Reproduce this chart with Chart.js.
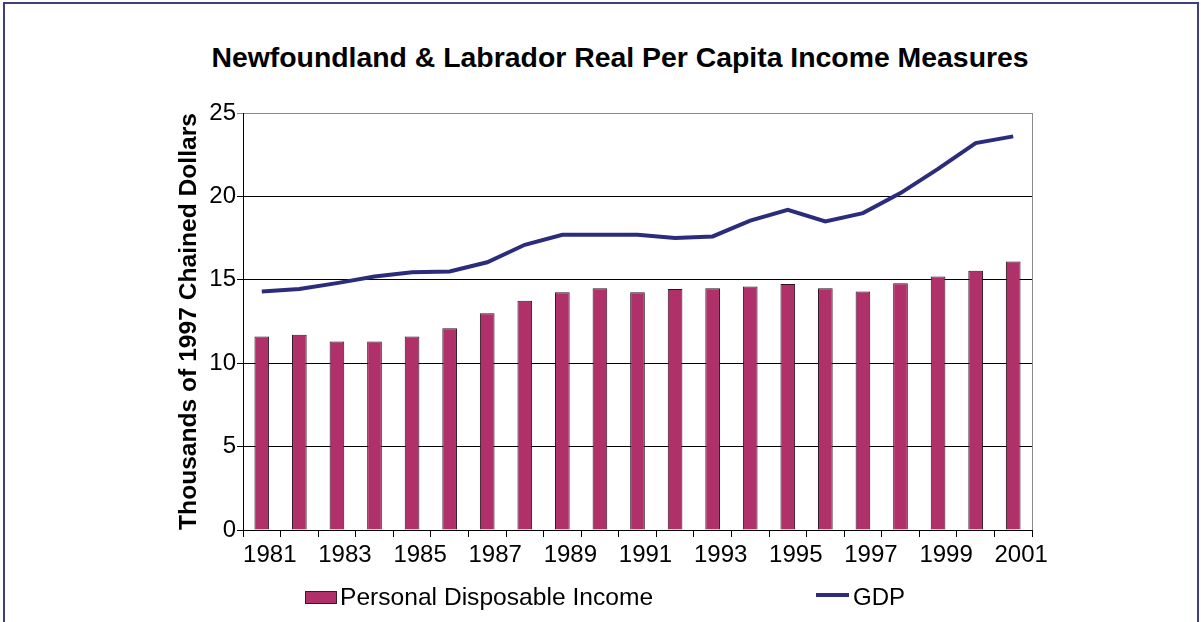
<!DOCTYPE html>
<html>
<head>
<meta charset="utf-8">
<script src="https://cdn.jsdelivr.net/npm/chart.js@4.4.1/dist/chart.umd.min.js"></script>
<style>
  html, body { margin: 0; padding: 0; background: #fff; }
  body { width: 1201px; height: 622px; position: relative; overflow: hidden; font-family: Arial, "Liberation Sans", sans-serif; }
  .frame { position: absolute; left: 3px; top: 2px; width: 1192px; height: 660px; border: 2px solid #3f3f7c; border-bottom: none; }
  .title { position: absolute; left: 120px; width: 1000px; top: 41px; line-height: 32px; text-align: center; font-size: 28.4px; font-weight: bold; color: #000; }
  #chart { position: absolute; left: 0; top: 0; }
  .leg-text { position: absolute; top: 585px; font-size: 24px; line-height: 24px; color: #000; white-space: nowrap; }
  .sw-bar { position: absolute; left: 305px; top: 591px; width: 30px; height: 11px; background: #b0306a; border: 1px solid #3a1a2a; }
  .sw-line { position: absolute; left: 816px; top: 593px; width: 33px; height: 4px; background: #2b2d7c; }
</style>
</head>
<body>
<div class="frame"></div>
<div class="title">Newfoundland &amp; Labrador Real Per Capita Income Measures</div>
<canvas id="chart" width="1201" height="622"></canvas>
<div class="sw-bar"></div>
<div class="leg-text" style="left:340px; font-size:24.6px;">Personal Disposable Income</div>
<div class="sw-line"></div>
<div class="leg-text" style="left:853px;">GDP</div>

<script>
// values, thousands of 1997 chained dollars
const YEARS = ['1981','1982','1983','1984','1985','1986','1987','1988','1989','1990','1991',
               '1992','1993','1994','1995','1996','1997','1998','1999','2000','2001'];
const INCOME = [11.6, 11.7, 11.3, 11.3, 11.6, 12.1, 13.0, 13.75, 14.25, 14.5, 14.25,
                14.45, 14.5, 14.6, 14.75, 14.5, 14.3, 14.8, 15.2, 15.55, 16.1];
const GDP = [14.3, 14.45, 14.8, 15.2, 15.45, 15.5, 16.05, 17.1, 17.7, 17.7, 17.7,
             17.5, 17.6, 18.55, 19.2, 18.5, 19.0, 20.2, 21.65, 23.2, 23.6];
const Y_TICKS = [0, 5, 10, 15, 20, 25];

const FONT = { family: 'Arial, "Liberation Sans", sans-serif', size: 24 };

// gray right-hand border of the plot area
const plotBorder = {
  id: 'plotBorder',
  afterDraw(chart) {
    const { ctx, chartArea: a } = chart;
    ctx.save();
    ctx.strokeStyle = '#8a8a8a';
    ctx.lineWidth = 1;
    ctx.beginPath();
    ctx.moveTo(Math.round(a.right) + 0.5, a.top);
    ctx.lineTo(Math.round(a.right) + 0.5, a.bottom);
    ctx.stroke();
    ctx.restore();
  }
};

new Chart(document.getElementById('chart'), {
  type: 'bar',
  data: {
    labels: YEARS,
    datasets: [
      { type: 'line', label: 'GDP', data: GDP, borderColor: '#2b2d7c', backgroundColor: '#2b2d7c',
        borderWidth: 4, pointRadius: 0, tension: 0, order: 0 },
      { type: 'bar', label: 'Personal Disposable Income', data: INCOME, backgroundColor: '#b0306a',
        borderColor: '#2a1420', borderWidth: 1, categoryPercentage: 1, barPercentage: 0.39, order: 1 },
    ],
  },
  options: {
    responsive: false,
    animation: false,
    layout: { padding: { left: 174, top: 113, right: 169, bottom: 0 } },
    plugins: { legend: { display: false }, title: { display: false }, tooltip: { enabled: false } },
    scales: {
      x: {
        offset: true,
        grid: { offset: true, drawOnChartArea: false, drawTicks: true, tickLength: 7, color: '#000' },
        border: { color: '#000', width: 1 },
        ticks: {
          autoSkip: false, maxRotation: 0, padding: 4, labelOffset: 8, color: '#000', font: FONT,
          callback: (v, i) => (i % 2 === 0 ? YEARS[i] : ''),
        },
        afterFit: (s) => { s.height = 92; },
      },
      y: {
        min: 0, max: 25,
        afterBuildTicks: (s) => { s.ticks = Y_TICKS.map(v => ({ value: v })); },
        grid: { color: (c) => (c.tick && c.tick.value === 25 ? '#8a8a8a' : '#000'), tickLength: 6 },
        border: { color: '#000', width: 1 },
        ticks: { padding: 1, color: '#000', font: FONT },
        title: { display: true, text: 'Thousands of 1997 Chained Dollars', color: '#000', padding: 0,
                 font: { family: FONT.family, size: 24.6, weight: 'bold' } },
        afterFit: (s) => { s.width = 69; },
      },
    },
  },
  plugins: [plotBorder],
});
</script>
</body>
</html>
